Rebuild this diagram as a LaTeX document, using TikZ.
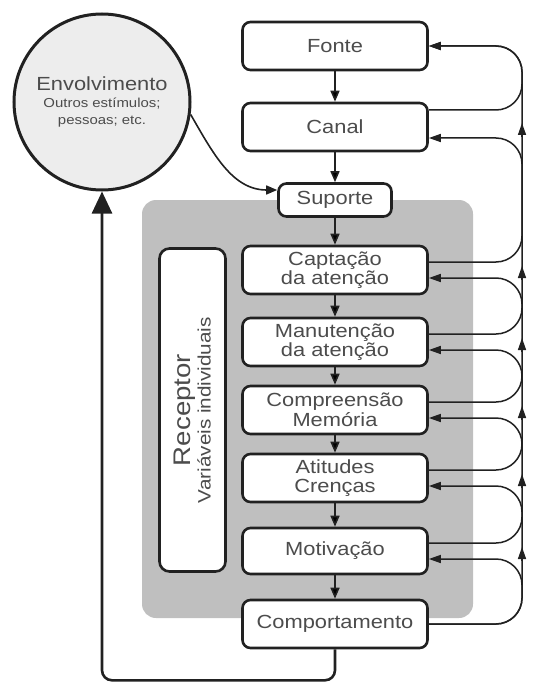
\documentclass[tikz,border=0pt]{standalone}
\usepackage{fontspec}
\setmainfont{Liberation Sans}[FakeStretch=1.15]
\usepackage{tikz}
\usetikzlibrary{arrows.meta}
\definecolor{panel}{gray}{0.75}
\definecolor{bubble}{gray}{0.93}
\definecolor{ink}{gray}{0.13}
\definecolor{txt}{gray}{0.3}

\begin{document}
\begin{tikzpicture}[x=1pt, y=-1pt,
  box/.style={draw=ink, line width=2.6pt, rounded corners=8pt, fill=white, text=txt, align=center,
    minimum width=185pt, minimum height=48pt, inner sep=0pt, font=\fontsize{19}{19.5}\selectfont},
  flow/.style={draw=ink, line width=1.6pt, -{Triangle[length=11pt,width=9pt]}},
  loop/.style={draw=ink, line width=1.5pt, rounded corners=26pt, -{Triangle[length=12pt,width=8pt]}},
  back/.style={draw=ink, line width=2.6pt, rounded corners=10pt, -{Triangle[length=22pt,width=20pt]}}]
  \useasboundingbox (0,0) rectangle (549,695);
  \fill[panel, rounded corners=14pt] (142,200) rectangle (473,618);

  \node[circle, draw=ink, line width=3pt, fill=bubble, minimum size=176pt, text=txt, align=center,
    font=\fontsize{13}{17}\selectfont] (envolvimento) at (102,102)
    {{\fontsize{19}{17}\selectfont Envolvimento}\\Outros estímulos;\\pessoas; etc.};

  \node[box] (fonte) at (335,46) {Fonte};
  \node[box] (canal) at (335,127) {Canal};
  \node[box, minimum width=113pt, minimum height=33pt] (suporte) at (335,200) {Suporte};
  \node[box] (captacao) at (335,270) {Captação\\da atenção};
  \node[box] (manutencao) at (335,342) {Manutenção\\da atenção};
  \node[box] (compreensao) at (335,410) {Compreensão\\Memória};
  \node[box] (atitudes) at (335,478) {Atitudes\\Crenças};
  \node[box, minimum height=46pt] (motivacao) at (335,551) {Motivação};
  \node[box] (comportamento) at (335,624) {Comportamento};
  \node[box, minimum width=66pt, minimum height=323pt, rounded corners=10pt] (receptor) at (192.5,410) {};
  \node[rotate=90, text=txt, align=center, font=\fontsize{18}{20}\selectfont] (variaveis) at (receptor)
    {{\fontsize{24}{24}\selectfont Receptor}\\Variáveis individuais};

  \coordinate (bus) at (522,0);
  \coordinate (fonte-in) at (fonte.east);
  \coordinate (canal-out) at ([yshift=17pt]canal.east);
  \coordinate (canal-in) at ([yshift=-11pt]canal.east);
  \foreach \b in {captacao,manutencao,compreensao,atitudes,motivacao} {
    \coordinate (\b-out) at ([yshift=8pt]\b.east);
    \coordinate (\b-in) at ([yshift=-8pt]\b.east);
  }
  \coordinate (comportamento-out) at (comportamento.east);

  \path[flow]
  (fonte) edge (canal)
  (canal) edge (suporte)
  (suporte) edge (captacao)
  (captacao) edge (manutencao)
  (manutencao) edge (compreensao)
  (compreensao) edge (atitudes)
  (atitudes) edge (motivacao)
  (motivacao) edge (comportamento)
  ;

  \foreach \a/\b in {canal/fonte, captacao/canal, manutencao/captacao, compreensao/manutencao,
    atitudes/compreensao, motivacao/atitudes, comportamento/motivacao}
    \draw[loop] (\a-out) -| (bus |- \b-in) -- (\b-in);
  \draw[loop] (comportamento-out) -| (bus |- fonte-in) -- (fonte-in);
  \foreach \b in {canal,captacao,manutencao,compreensao,atitudes,motivacao}
    \draw[loop] (bus |- \b) ++(0,10) -- ++(0,-14);

  \draw[flow] (envolvimento.-8) to[out=-60, in=180] ([yshift=10pt]suporte.west);
  \draw[back] (comportamento.south) -- ++(0,31) -| (envolvimento.south);
\end{tikzpicture}
\end{document}
